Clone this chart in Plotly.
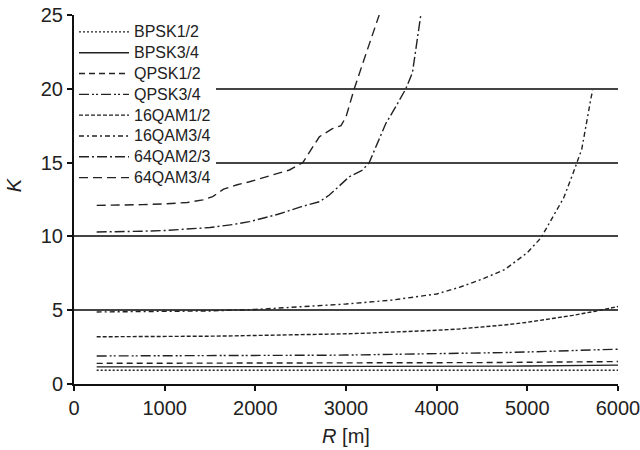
import plotly.graph_objects as go

# ---- data ----
R_flat = [250, 500, 750, 1000, 1250, 1500, 1750, 2000, 2250, 2500, 2750, 3000,
          3250, 3500, 3750, 4000, 4250, 4500, 4750, 5000, 5250, 5500, 5750, 6000]

bpsk12 = [0.93, 0.93, 0.93, 0.93, 0.93, 0.93, 0.93, 0.93, 0.93, 0.93, 0.93, 0.93,
          0.93, 0.93, 0.93, 0.93, 0.93, 0.93, 0.93, 0.93, 0.93, 0.93, 0.93, 0.93]
bpsk34 = [1.16, 1.16, 1.16, 1.16, 1.16, 1.16, 1.16, 1.16, 1.16, 1.16, 1.16, 1.17,
          1.17, 1.17, 1.18, 1.18, 1.19, 1.20, 1.21, 1.22, 1.23, 1.24, 1.26, 1.28]
qpsk12 = [1.40, 1.40, 1.40, 1.40, 1.40, 1.40, 1.40, 1.40, 1.40, 1.40, 1.40, 1.40,
          1.41, 1.41, 1.42, 1.43, 1.44, 1.45, 1.46, 1.47, 1.48, 1.49, 1.50, 1.52]
qpsk34 = [1.90, 1.90, 1.90, 1.90, 1.91, 1.91, 1.91, 1.92, 1.93, 1.94, 1.95, 1.96,
          1.98, 2.00, 2.02, 2.05, 2.07, 2.10, 2.13, 2.17, 2.21, 2.26, 2.31, 2.36]
qam16_12 = [3.20, 3.20, 3.21, 3.22, 3.23, 3.24, 3.26, 3.28, 3.30, 3.33, 3.36, 3.40,
            3.45, 3.50, 3.56, 3.64, 3.73, 3.85, 4.00, 4.18, 4.40, 4.65, 4.93, 5.25]

R_qam16_34 = [250, 1000, 1500, 2000, 2500, 3000, 3500, 4000, 4250, 4500, 4750,
              5000, 5150, 5300, 5400, 5500, 5600, 5700, 5720]
qam16_34 = [4.88, 4.90, 4.95, 5.05, 5.24, 5.42, 5.68, 6.10, 6.55, 7.10, 7.75,
            8.90, 9.90, 11.50, 12.60, 14.20, 15.90, 19.30, 19.90]

R_qam64_23 = [250, 500, 750, 1000, 1250, 1500, 1750, 1936, 2250, 2500, 2706, 2816,
              3036, 3183, 3256, 3440, 3550, 3660, 3733, 3825]
qam64_23 = [10.30, 10.30, 10.35, 10.40, 10.50, 10.60, 10.80, 11.00, 11.50, 12.00,
            12.35, 12.80, 14.04, 14.50, 15.00, 17.66, 18.80, 20.00, 21.10, 25.00]

R_qam64_34 = [250, 500, 750, 1000, 1250, 1422, 1530, 1650, 1800, 1936, 2150, 2376,
              2523, 2706, 2850, 2945, 3000, 3091, 3200, 3366]
qam64_34 = [12.10, 12.10, 12.15, 12.20, 12.30, 12.47, 12.70, 13.20, 13.50, 13.70,
            14.10, 14.50, 15.00, 16.75, 17.30, 17.50, 18.10, 20.00, 22.00, 25.00]

names = ["BPSK1/2", "BPSK3/4", "QPSK1/2", "QPSK3/4",
         "16QAM1/2", "16QAM3/4", "64QAM2/3", "64QAM3/4"]

x_ticks = [0, 1000, 2000, 3000, 4000, 5000, 6000]
y_ticks = [0, 5, 10, 15, 20, 25]

series = [
    (R_flat, bpsk12, "2px,2px"),
    (R_flat, bpsk34, "solid"),
    (R_flat, qpsk12, "6px,4px"),
    (R_flat, qpsk34, "10px,3px,2px,2px,2px,3px"),
    (R_flat, qam16_12, "4px,2px"),
    (R_qam16_34, qam16_34, "5px,3px,2px,3px"),
    (R_qam64_23, qam64_23, "10px,3px,2px,3px"),
    (R_qam64_34, qam64_34, "9px,5px"),
]

fig = go.Figure()
for name, (xs, ys, dash) in zip(names, series):
    fig.add_trace(go.Scatter(x=xs, y=ys, mode="lines",
                             name='<span style="font-size:16px">' + name + '</span>',
                             line=dict(color="#222222", width=1.4, dash=dash)))

FONT = "Liberation Sans, Arial, Helvetica, sans-serif"

fig.update_layout(
    width=640, height=450,
    margin=dict(l=74, r=22, t=15, b=66),
    paper_bgcolor="white", plot_bgcolor="white",
    font=dict(family=FONT, color="#222222", size=20),
    showlegend=True,
    legend=dict(x=0, y=0.9959, xanchor="left", yanchor="top", xref="paper", yref="paper",
                bgcolor="white", borderwidth=0, itemwidth=50,
                font=dict(family=FONT, size=13.7, color="#222222"),
                tracegroupgap=0),
    xaxis=dict(range=[0, 6000], tickvals=x_ticks, ticktext=[str(v) for v in x_ticks],
               automargin=False, ticklabeloverflow="allow",
               showgrid=False, zeroline=False, showline=True, linecolor="#111111",
               linewidth=2, ticks="outside", ticklen=5, tickwidth=2, tickcolor="#111111",
               title=dict(text="<i>R</i> [m]", font=dict(size=20), standoff=11)),
    yaxis=dict(range=[0, 25], tickvals=y_ticks, ticktext=[str(v) for v in y_ticks],
               automargin=False,
               showgrid=True, gridcolor="#444444", gridwidth=2, zeroline=False,
               showline=True, linecolor="#111111", linewidth=2, ticks="outside",
               ticklen=5, tickwidth=2, tickcolor="#111111",
               title=dict(text="&nbsp;&nbsp;&nbsp;&nbsp;&nbsp;<i>K</i>",
                          font=dict(size=20), standoff=14)),
)

fig.write_html("out.html")
